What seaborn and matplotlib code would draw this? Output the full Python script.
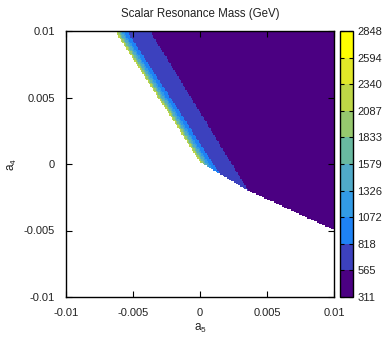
import numpy as np
import pandas as pd
import matplotlib
matplotlib.use("Agg")
import matplotlib.pyplot as plt
from matplotlib.colors import ListedColormap, BoundaryNorm
import seaborn as sns

# colour bar levels (GeV) and the colour of each band
levels = [311, 565, 818, 1072, 1326, 1579, 1833, 2087, 2340, 2594, 2848]
band_colors = ["#4b0082", "#3c41be", "#1e82f5", "#329be6", "#50aac8",
               "#69b9a0", "#96c86e", "#bed746", "#e1e828", "#ffff00"]

# tick values of both axes
a5_ticks = [-0.01, -0.005, 0, 0.005, 0.01]
a4_ticks = [0.01, 0.005, 0, -0.005, -0.01]
tick_labels_x = ["-0.01", "-0.005", "0", "0.005", "0.01"]
tick_labels_y = ["0.01", "0.005", "0", "-0.005", "-0.01"]

# edges of the allowed region (a5, a4)
left_edge_a5 = [-0.00634, 0.0]
left_edge_a4 = [0.01, 0.00015]
lower_edge_a5 = [0.0, 0.001, 0.0035, 0.01]
lower_edge_a4 = [0.00015, -0.00045, -0.00195, -0.00495]
# border between the 311-565 band and the 565-818 band
purple_edge_a5 = [-0.00373, 0.00343]
purple_edge_a4 = [0.01, -0.00173]
# bands measured as a5 distance from the left edge (inner bands only)
band_offset = [0.0001, 0.0002, 0.0003, 0.00045, 0.0006, 0.0009]
band_mass = [2200, 1950, 1700, 1450, 1200, 950]

n = 200
a5 = np.linspace(-0.01, 0.01, n + 1)[:-1] + 0.01 / n
a4 = np.linspace(0.01, -0.01, n + 1)[:-1] - 0.01 / n
X, Y = np.meshgrid(a5, a4)

# left edge as x(y), extended linearly below its end
k_left = (left_edge_a5[1] - left_edge_a5[0]) / (left_edge_a4[1] - left_edge_a4[0])
x_left = left_edge_a5[0] + (Y - left_edge_a4[0]) * k_left
k_pur = (purple_edge_a5[1] - purple_edge_a5[0]) / (purple_edge_a4[1] - purple_edge_a4[0])
x_pur = purple_edge_a5[0] + (Y - purple_edge_a4[0]) * k_pur
y_low = np.interp(X, lower_edge_a5, lower_edge_a4)

mass = np.full(X.shape, np.nan)
valid = (X >= x_left) & (Y >= y_low)
off = X - x_left
mass[valid] = 440
mass[valid & (X < x_pur)] = 690
for o, m in zip(band_offset[::-1], band_mass[::-1]):
    mass[valid & (off < o)] = m

df = pd.DataFrame(mass)

plt.rcParams["font.family"] = ["Liberation Sans", "DejaVu Sans"]
fig = plt.figure(figsize=(3.91, 3.37), dpi=100)
ax = fig.add_axes([66 / 391, 40 / 337, 268 / 391, 266 / 337])
cax = fig.add_axes([340 / 391, 40 / 337, 13 / 391, 266 / 337])

cmap = ListedColormap(band_colors)
norm = BoundaryNorm(levels, cmap.N)
sns.heatmap(df, cmap=cmap, norm=norm, ax=ax, cbar_ax=cax,
            xticklabels=False, yticklabels=False,
            cbar_kws={"ticks": levels})

ax.set_xticks([(v + 0.01) / 0.02 * n for v in a5_ticks])
ax.set_xticklabels(tick_labels_x, rotation=0)
ax.set_yticks([(0.01 - v) / 0.02 * n for v in a4_ticks])
ax.set_yticklabels(tick_labels_y, rotation=0)
ax.tick_params(direction="in", top=True, right=True, length=4.5, width=0.8,
               labelsize=8, pad=8, labelcolor="#222222")
for s in ax.spines.values():
    s.set_visible(True)
    s.set_linewidth(1)
    s.set_color("black")
ax.set_xlabel(r"$\mathregular{a_5}$", fontsize=8.5, labelpad=3, color="#222222")
ax.set_ylabel(r"$\mathregular{a_4}$", fontsize=8.5, labelpad=3, color="#222222")
ax.set_title("Scalar Resonance Mass (GeV)", fontsize=8.3, pad=10, color="#222222")

cbar = ax.collections[0].colorbar
cbar.set_ticks(levels)
cbar.set_ticklabels([str(v) for v in levels])
cax.tick_params(direction="in", left=True, right=True, length=3, width=0.8,
                labelsize=8, pad=3, labelcolor="#222222")
cbar.outline.set_visible(True)
cbar.outline.set_linewidth(1)
cbar.outline.set_edgecolor("black")

fig.savefig("out.png", dpi=100)
